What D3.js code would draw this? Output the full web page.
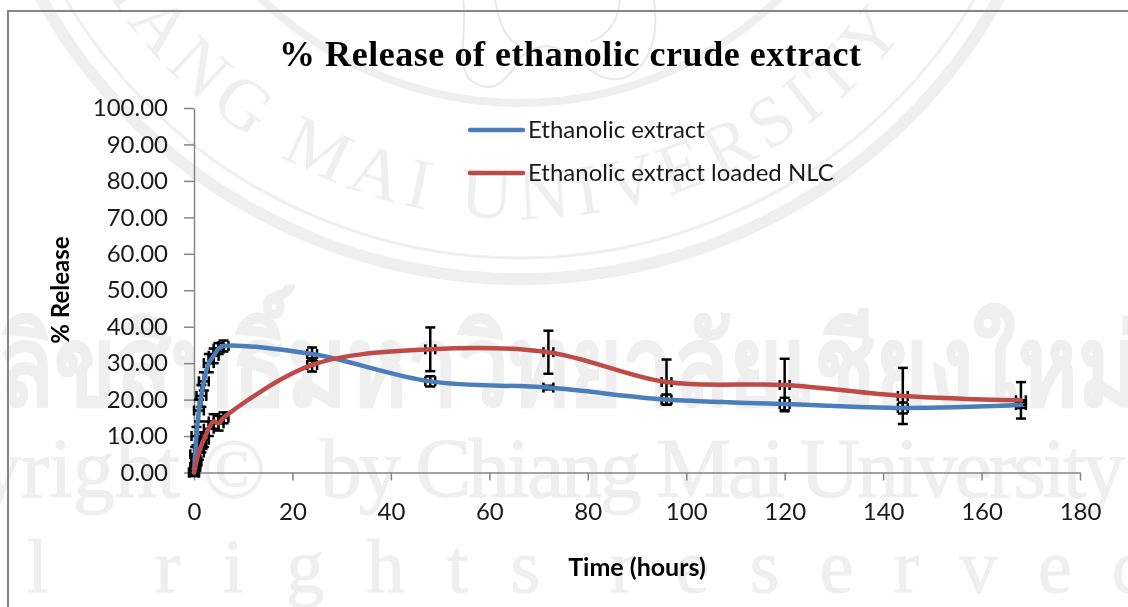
<!DOCTYPE html>
<html>
<head>
<meta charset="utf-8">
<script src="https://cdn.jsdelivr.net/npm/d3@7"></script>
<style>
  html, body { margin: 0; padding: 0; background: #fff; overflow: hidden; }
  svg { display: block; filter: blur(0.5px); }
</style>
</head>
<body>
<svg id="chart" width="1128" height="607"></svg>
<script>
// 데이터
const timeHours = [0, 0.25, 0.5, 1, 1.5, 2, 3, 4, 5, 6, 24, 48, 72, 96, 120, 144, 168];
const extractRelease = [0, 5, 10, 17, 21, 25, 30, 32, 34, 34.7, 32.5, 25, 23.3, 20, 18.8, 17.7, 18.5];
const extractError = [2, 2, 2.5, 3, 3, 2.5, 2.5, 2, 1.5, 1.5, 1.8, 1.4, 0.5, 1.4, 1.7, 1.5, 0.8];
const nlcRelease = [0, 1.5, 3, 5.5, 7.5, 9, 12, 14, 13.5, 15, 29.5, 33.8, 33, 24.8, 24, 21, 19.8];
const nlcError = [0.5, 1, 1.5, 2, 2, 2, 2, 2, 2, 1.5, 1.8, 6, 5.9, 6.2, 7.2, 7.7, 5];
const timeError = 1; // 가로 오차 (시간)
const xTicks = [0, 20, 40, 60, 80, 100, 120, 140, 160, 180];
const yTicks = [0, 10, 20, 30, 40, 50, 60, 70, 80, 90, 100];
const seriesNames = ['Ethanolic extract', 'Ethanolic extract loaded NLC'];
const seriesColors = ['#4a7ebb', '#be4b48'];

const svg = d3.select('#chart');
const x = d3.scaleLinear().domain([0, 180]).range([194, 1080]);
const y = d3.scaleLinear().domain([0, 100]).range([472.5, 108]);

// 배경 워터마크
const mark = svg.append('g').attr('fill', '#efefef').attr('stroke', '#efefef').attr('stroke-width', 1);
const sealX = 520, sealY = -270;
[[549, 12], [528, 3], [373, 8]].forEach(r => {
    mark.append('circle')
        .attr('cx', sealX).attr('cy', sealY).attr('r', r[0])
        .attr('fill', 'none').attr('stroke-width', r[1]);
});
mark.append('path')
    .attr('id', 'sealArc')
    .attr('fill', 'none').attr('stroke', 'none')
    .attr('d', `M${sealX - 489},${sealY} A489,489 0 0 0 ${sealX + 489},${sealY}`);
mark.append('text')
    .attr('font-family', 'Liberation Serif')
    .attr('font-size', 72)
    .attr('stroke', 'none')
    .attr('letter-spacing', 8)
    .attr('text-anchor', 'middle')
    .append('textPath')
    .attr('href', '#sealArc')
    .attr('startOffset', '45%')
    .text('CHIANG MAI UNIVERSITY');
// 코끼리 문양 (대략적인 윤곽)
mark.append('path')
    .attr('fill', 'none').attr('stroke', '#e8e8e8').attr('stroke-width', 2)
    .attr('d', 'M463,0 C468,30 455,62 470,80 C490,95 505,85 520,58 C545,35 565,50 588,68 C620,95 650,70 655,30 C656,18 655,8 654,0 M495,0 C500,25 505,40 520,45 M620,0 C618,20 610,35 590,42');
mark.append('text')
    .attr('x', -2).attr('y', 405)
    .attr('font-family', 'Noto Sans, Liberation Serif, serif')
    .attr('font-weight', 700)
    .attr('font-size', 112)
    .attr('textLength', 1140)
    .attr('lengthAdjust', 'spacingAndGlyphs')
    .text('ลิขสิทธิ์มหาวิทยาลัยเชียงใหม่');
mark.append('text')
    .attr('x', 180).attr('y', 497).attr('text-anchor', 'end')
    .attr('font-family', 'Liberation Serif').attr('font-size', 84)
    .text('Copyright');
mark.append('text')
    .attr('x', 202).attr('y', 497)
    .attr('font-family', 'Liberation Serif').attr('font-size', 84)
    .text('©');
mark.append('text')
    .attr('x', 320).attr('y', 497)
    .attr('font-family', 'Liberation Serif').attr('font-size', 84)
    .attr('textLength', 805)
    .text('by Chiang Mai University');
mark.append('text')
    .attr('x', 96).attr('y', 592).attr('text-anchor', 'end')
    .attr('font-family', 'Liberation Serif').attr('font-size', 76)
    .attr('letter-spacing', 48)
    .text('All');
mark.append('text')
    .attr('x', 155).attr('y', 592)
    .attr('font-family', 'Liberation Serif').attr('font-size', 76)
    .attr('textLength', 385)
    .text('rights');
mark.append('text')
    .attr('x', 610).attr('y', 592)
    .attr('font-family', 'Liberation Serif').attr('font-size', 76)
    .attr('textLength', 540)
    .text('reserved');

// 차트 외곽선
svg.append('path')
    .attr('d', 'M8,607 V11 H1128')
    .attr('fill', 'none').attr('stroke', '#868686').attr('stroke-width', 2);

// 제목
svg.append('text')
    .attr('x', 279).attr('y', 66)
    .attr('font-family', 'Liberation Serif')
    .attr('font-weight', 700)
    .attr('font-size', 36)
    .attr('textLength', 582)
    .attr('fill', '#000')
    .text('% Release of ethanolic crude extract');

// 축
const xAxis = svg.append('g')
    .attr('transform', `translate(0,${y(0)})`)
    .call(d3.axisBottom(x).tickValues(xTicks).tickSize(8).tickPadding(22).tickSizeOuter(0));
const yAxis = svg.append('g')
    .attr('transform', `translate(${x(0)},0)`)
    .call(d3.axisLeft(y).tickValues(yTicks).tickSize(10).tickPadding(16).tickSizeOuter(0).tickFormat(d3.format('.2f')));
[xAxis, yAxis].forEach(a => {
    a.selectAll('path, line').attr('stroke', '#868686').attr('stroke-width', 1.5);
    a.selectAll('text').attr('font-family', 'Lato').attr('font-size', 24).attr('fill', '#1a1a1a');
});

svg.append('text')
    .attr('x', 637).attr('y', 576)
    .attr('text-anchor', 'middle')
    .attr('font-family', 'Lato').attr('font-weight', 700).attr('font-size', 25)
    .text('Time (hours)');
svg.append('text')
    .attr('transform', 'translate(69,290) rotate(-90)')
    .attr('text-anchor', 'middle')
    .attr('font-family', 'Lato').attr('font-weight', 700).attr('font-size', 24)
    .text('% Release');

// 오차 막대
function drawErrors(values, errors) {
    const bars = svg.append('g').attr('stroke', '#000').attr('stroke-width', 2.5)
        .selectAll('g').data(timeHours).enter().append('g');
    const hi = (d, i) => y(values[i] + errors[i]);
    const lo = (d, i) => y(Math.max(values[i] - errors[i], -1));
    bars.append('line')
        .attr('x1', d => x(d)).attr('x2', d => x(d))
        .attr('y1', hi).attr('y2', lo);
    bars.append('line')
        .attr('x1', d => x(d) - 5).attr('x2', d => x(d) + 5)
        .attr('y1', hi).attr('y2', hi);
    bars.append('line')
        .attr('x1', d => x(d) - 5).attr('x2', d => x(d) + 5)
        .attr('y1', lo).attr('y2', lo);
    // 가로 오차와 끝선
    bars.append('line')
        .attr('x1', d => x(d - timeError)).attr('x2', d => x(d + timeError))
        .attr('y1', (d, i) => y(values[i])).attr('y2', (d, i) => y(values[i]));
    [-timeError, timeError].forEach(dx => {
        bars.append('line')
            .attr('x1', d => x(d + dx)).attr('x2', d => x(d + dx))
            .attr('y1', (d, i) => y(values[i]) - 5).attr('y2', (d, i) => y(values[i]) + 5);
    });
}
drawErrors(extractRelease, extractError);
drawErrors(nlcRelease, nlcError);

// 곡선
const line = d3.line()
    .x((d, i) => x(timeHours[i]))
    .y(d => y(d))
    .curve(d3.curveCatmullRom.alpha(0.5));
[extractRelease, nlcRelease].forEach((values, i) => {
    svg.append('path')
        .attr('d', line(values))
        .attr('fill', 'none')
        .attr('stroke', seriesColors[i])
        .attr('stroke-width', 4.5)
        .attr('stroke-linecap', 'round');
});

// 범례
const legendY = d3.scaleOrdinal().domain(seriesNames).range([130, 173]);
const legend = svg.append('g').selectAll('g').data(seriesNames).enter().append('g');
legend.append('line')
    .attr('x1', 470).attr('x2', 523)
    .attr('y1', d => legendY(d)).attr('y2', d => legendY(d))
    .attr('stroke', (d, i) => seriesColors[i])
    .attr('stroke-width', 4.5)
    .attr('stroke-linecap', 'round');
legend.append('text')
    .attr('x', 528)
    .attr('y', d => legendY(d) + 8)
    .attr('font-family', 'Lato').attr('font-size', 24).attr('fill', '#1a1a1a')
    .text(d => d);
</script>
</body>
</html>
